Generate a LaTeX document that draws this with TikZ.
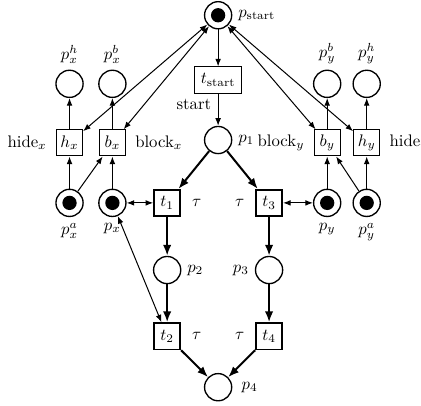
\documentclass[tikz,border=0pt]{standalone}
\usepackage{amsmath}
\usetikzlibrary{arrows.meta, positioning}

\begin{document}
\begin{tikzpicture}[
  place/.style={circle, draw, line width=0.8pt, minimum size=0.57cm, inner sep=0pt},
  marked/.style={place, path picture={\fill (path picture bounding box.center) circle (0.15cm);}},
  trans/.style={rectangle, draw, line width=1pt, minimum size=0.55cm, inner sep=1pt},
  aux/.style={rectangle, draw, line width=0.6pt, minimum size=0.55cm, inner sep=1pt},
  arr/.style={-{Latex[length=4.5pt,width=3.4pt]}, line width=0.6pt},
  darr/.style={{Latex[length=4.5pt,width=3.4pt]}-{Latex[length=4.5pt,width=3.4pt]}, line width=0.6pt},
  flow/.style={-{Latex[length=6.5pt,width=5pt]}, line width=1.2pt},
  tau/.style={label distance=3pt}
]
  \useasboundingbox (0,0) rectangle (8.84,-8.505);

  %% --- Start place and transition ---
  \node[marked, label=right:$p_{\text{start}}$] (ps) at (4.58,-0.32) {};
  \node[aux, minimum width=1.0cm, label={[anchor=north]south west:start}]
    (ts) at (4.58,-1.68) {$t_{\text{start}}$};
  \node[place, label=right:$p_1$] (p1) at (4.58,-2.94) {};

  %% --- Main net ---
  \node[trans, label={[tau]right:$\tau$}] (t1) at (3.51,-4.26) {$t_1$};
  \node[trans, label={[tau]left:$\tau$}]  (t3) at (5.65,-4.26) {$t_3$};
  \node[place, label=right:$p_2$] (p2) at (3.51,-5.67) {};
  \node[place, label=left:$p_3$]  (p3) at (5.65,-5.67) {};
  \node[trans, label={[tau]right:$\tau$}] (t2) at (3.51,-7.06) {$t_2$};
  \node[trans, label={[tau]left:$\tau$}]  (t4) at (5.65,-7.06) {$t_4$};
  \node[place, label={[label distance=2pt]right:$p_4$}] (p4) at (4.58,-8.13) {};

  %% --- Left side (x) ---
  \node[marked, label=below:$p_x^a$] (pxa) at (1.46,-4.26) {};
  \node[marked, label=below:$p_x$]   (px)  at (2.36,-4.26) {};
  \node[aux, label={[label distance=2pt]left:hide$_x$}]   (hx) at (1.46,-3.00) {$h_x$};
  \node[aux, label={[label distance=2pt]right:block$_x$}] (bx) at (2.36,-3.00) {$b_x$};
  \node[place, label=above:$p_x^h$] (pxh) at (1.46,-1.76) {};
  \node[place, label=above:$p_x^b$] (pxb) at (2.36,-1.76) {};

  %% --- Right side (y) ---
  \node[marked, label=below:$p_y$]   (py)  at (6.87,-4.26) {};
  \node[marked, label=below:$p_y^a$] (pya) at (7.70,-4.26) {};
  \node[aux, label={[label distance=2pt]left:block$_y$}] (by) at (6.87,-3.00) {$b_y$};
  \node[aux, label={[label distance=2pt]right:hide$_y$}] (hy) at (7.70,-3.00) {$h_y$};
  \node[place, label=above:$p_y^b$] (pyb) at (6.87,-1.76) {};
  \node[place, label=above:$p_y^h$] (pyh) at (7.70,-1.76) {};

  %% --- Arrows ---
  \draw[arr] (ps) -- (ts);
  \draw[arr] (ts) -- (p1);

  %% main flow
  \draw[flow] (p1) -- (t1);
  \draw[flow] (p1) -- (t3);
  \draw[flow] (t1) -- (p2);
  \draw[flow] (p2) -- (t2);
  \draw[flow] (t2) -- (p4);
  \draw[flow] (t3) -- (p3);
  \draw[flow] (p3) -- (t4);
  \draw[flow] (t4) -- (p4);

  %% read arcs
  \draw[darr] (px) -- (t1);
  \draw[darr] (px) -- (t2);
  \draw[darr] (py) -- (t3);

  %% hide / block
  \draw[arr] (pxa) -- (hx);
  \draw[arr] (pxa) -- (bx);
  \draw[arr] (px)  -- (bx);
  \draw[arr] (hx)  -- (pxh);
  \draw[arr] (bx)  -- (pxb);
  \draw[arr] (py)  -- (by);
  \draw[arr] (pya) -- (by);
  \draw[arr] (pya) -- (hy);
  \draw[arr] (by)  -- (pyb);
  \draw[arr] (hy)  -- (pyh);

  %% back to start
  \draw[darr] (ps) -- (hx);
  \draw[darr] (ps) -- (bx);
  \draw[darr] (ps) -- (by);
  \draw[darr] (ps) -- (hy);

\end{tikzpicture}
\end{document}
